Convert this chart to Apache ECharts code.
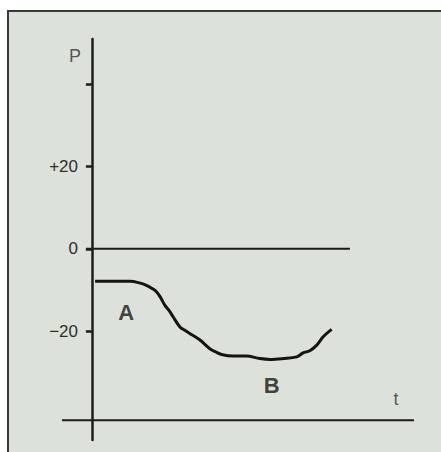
<!DOCTYPE html>
<html>
<head>
<meta charset="utf-8">
<script src="https://cdn.jsdelivr.net/npm/echarts@6/dist/echarts.min.js"></script>
<style>
html,body{margin:0;padding:0;background:#ffffff;}
#chart{width:441px;height:452px;}
</style>
</head>
<body>
<div id="chart"></div>
<script>
// ---- data ----
const curveT = [0.9, 5, 10.8, 13.5, 15.5, 17.2, 18.4, 19.6, 20.7, 22, 23.1, 25.0, 26.5, 27.8, 30.7, 33.5, 35.2, 36.8, 40.1, 43.9, 47.7, 50.6, 54.3, 58.2, 60.0, 61.9, 63.8, 65.7, 68.1];
const curveP = [-7.9, -7.9, -7.9, -8.3, -8.9, -9.7, -10.5, -12.0, -13.7, -15.1, -16.6, -19.0, -19.9, -20.6, -22.2, -24.3, -25.1, -25.7, -26.1, -26.1, -26.7, -26.9, -26.7, -26.3, -25.3, -24.8, -23.5, -21.4, -19.6];
const zeroLineT = [-1.7, 73.3];
const zeroLineP = 0;
const baseLineT = [-8.5, 91.5];
const baseLineP = -41.7;
const tickValues = [-20, 0, 20, 40];
const labelValues = [-20, 0, 20];
const tickLabels = ['\u221220', '0', '+20'];
const textLabels = ['P', 't', 'A', 'B'];
const textT = [-4.8, 86.4, 9.7, 51.1];
const textP = [46.9, -36.6, -15.4, -33.2];
const tRange = [-8.5, 91.5];
const pRange = [-46.5, 51];

// ---- build ----
const ink = '#1c1c1c';
const font = "'Liberation Sans', Arial, sans-serif";
const chart = echarts.init(document.getElementById('chart'), null, {renderer: 'svg'});

const pair = (ts, ps) => ts.map((t, i) => [t, ps[i]]);

const option = {
  animation: false,
  backgroundColor: '#ffffff',
  graphic: [
    {type: 'rect', z: -100, shape: {x: 8, y: 11, width: 440, height: 445}, style: {fill: '#dce2da'}},
    {type: 'polyline', z: -90, shape: {points: [[8, 460], [8, 11], [445, 11]]}, style: {stroke: '#3a3a3a', lineWidth: 2, fill: null}}
  ],
  grid: {left: 62, right: 27, top: 39, bottom: 12},
  xAxis: {
    type: 'value', min: tRange[0], max: tRange[1],
    axisLine: {show: false}, axisTick: {show: false}, axisLabel: {show: false}, splitLine: {show: false}
  },
  yAxis: {
    type: 'value', min: pRange[0], max: pRange[1],
    axisLine: {show: true, onZero: true, lineStyle: {color: ink, width: 2.5}},
    axisTick: {show: true, customValues: tickValues, length: 6, lineStyle: {color: ink, width: 2.5}},
    axisLabel: {
      show: true, customValues: labelValues, margin: -16,
      color: '#2e2e2e', fontSize: 17, fontFamily: font,
      formatter: v => tickLabels[labelValues.indexOf(v)]
    },
    splitLine: {show: false}
  },
  series: [
    {
      type: 'line', data: pair(curveT, curveP), smooth: 0.35, symbol: 'none',
      lineStyle: {color: '#141414', width: 3}
    },
    {
      type: 'line', data: zeroLineT.map(t => [t, zeroLineP]), symbol: 'none',
      lineStyle: {color: ink, width: 2.2}
    },
    {
      type: 'line', data: baseLineT.map(t => [t, baseLineP]), symbol: 'none',
      lineStyle: {color: ink, width: 2.2}
    },
    {
      type: 'scatter', symbolSize: 0,
      data: textLabels.map((s, i) => ({
        value: [textT[i], textP[i]],
        label: {
          show: true, position: 'inside', formatter: s,
          fontFamily: font,
          fontSize: (s === 'A' || s === 'B') ? 22 : 18,
          fontWeight: (s === 'A' || s === 'B') ? 'bold' : 'normal',
          color: (s === 'A' || s === 'B') ? '#161616' : '#2e2e2e'
        }
      }))
    }
  ]
};
chart.setOption(option);
</script>
</body>
</html>
